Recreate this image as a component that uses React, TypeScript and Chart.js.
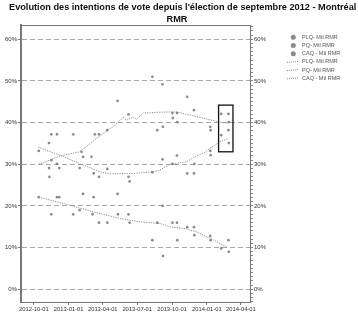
import React, { useEffect, useRef } from 'react';
import { Chart, registerables } from 'chart.js';

Chart.register(...registerables);

const ORIGIN = '2012-10-01';
const TITLE_LINES = ["Evolution des intentions de vote depuis l'élection de septembre 2012 - Montréal", 'RMR'];
const SERIES_NAMES = ['PLQ- Mtl RMR', 'PQ- Mtl RMR', 'CAQ - Mtl RMR'];
const X_TICK_DATES = ['2012-10-01', '2013-01-01', '2013-04-01', '2013-07-01', '2013-10-01', '2014-01-01', '2014-04-01'];
const X_RANGE = ['2012-08-28', '2014-04-25'];
const Y_TICKS = [0, 10, 20, 30, 40, 50, 60];
const Y_RANGE = [-3.05, 63.43];

const PLQ_DATES = ['2012-11-10', '2012-11-11', '2012-11-16', '2012-12-01', '2012-12-07', '2013-02-04', '2013-02-08', '2013-03-11', '2013-03-22', '2013-04-13', '2013-05-10', '2013-06-08', '2013-08-10', '2013-08-23', '2013-09-06', '2013-09-07', '2013-10-02', '2013-10-03', '2013-10-14', '2013-10-15', '2013-11-10', '2013-11-28', '2014-01-10', '2014-01-11', '2014-02-08', '2014-02-27', '2014-02-28'];
const PLQ_VALUES = [29.1, 27.0, 31.0, 30.1, 29.1, 33.0, 31.8, 37.2, 37.2, 38.2, 45.2, 42.0, 51.0, 38.2, 49.2, 39.0, 42.3, 41.1, 42.3, 40.1, 46.2, 43.0, 39.0, 38.2, 42.1, 42.1, 40.1];

const PQ_DATES = ['2012-10-14', '2012-11-10', '2012-11-16', '2012-12-01', '2013-01-13', '2013-01-30', '2013-03-02', '2013-03-08', '2013-03-22', '2013-04-13', '2013-06-08', '2013-06-11', '2013-08-10', '2013-09-06', '2013-10-02', '2013-10-14', '2013-11-10', '2013-11-28', '2013-11-29', '2014-01-10', '2014-01-11', '2014-02-08', '2014-02-27', '2014-02-28'];
const PQ_VALUES = [33.2, 35.1, 37.2, 37.2, 37.2, 29.1, 31.8, 27.8, 27.0, 28.9, 27.0, 25.9, 28.1, 31.2, 30.1, 32.1, 27.8, 27.8, 30.1, 33.2, 32.2, 37.0, 38.2, 35.1];

const CAQ_DATES = ['2012-10-14', '2012-11-16', '2012-12-01', '2012-12-07', '2013-01-13', '2013-01-30', '2013-02-08', '2013-03-05', '2013-03-08', '2013-03-22', '2013-04-13', '2013-05-10', '2013-05-11', '2013-06-08', '2013-06-11', '2013-08-10', '2013-08-23', '2013-09-06', '2013-09-07', '2013-10-02', '2013-10-14', '2013-10-15', '2013-11-10', '2013-11-28', '2013-11-29', '2014-01-10', '2014-01-11', '2014-02-08', '2014-02-27', '2014-02-28'];
const CAQ_VALUES = [22.1, 18.0, 22.1, 22.1, 18.0, 19.0, 22.9, 18.0, 22.1, 16.0, 16.0, 22.9, 18.0, 18.0, 16.0, 11.8, 16.0, 20.0, 8.0, 16.0, 16.0, 11.8, 14.9, 14.9, 13.0, 12.8, 11.8, 9.8, 11.8, 9.0];

const PLQ_TREND_DATES = ['2012-10-14', '2012-12-09', '2013-01-30', '2013-03-24', '2013-05-03', '2013-05-25', '2013-06-03', '2013-06-20', '2013-06-29', '2013-07-17', '2013-08-30', '2013-10-13', '2013-11-17', '2013-12-22', '2014-01-31', '2014-02-22'];
const PLQ_TREND_VALUES = [30.0, 32.0, 33.0, 36.8, 39.4, 41.3, 40.6, 41.3, 40.8, 42.3, 42.5, 42.6, 41.8, 41.1, 40.2, 39.9];

const PQ_TREND_DATES = ['2012-10-12', '2012-12-08', '2013-01-30', '2013-03-24', '2013-04-19', '2013-06-20', '2013-08-12', '2013-08-30', '2013-09-25', '2013-11-08', '2013-12-04', '2013-12-22', '2014-01-09', '2014-02-04', '2014-02-26'];
const PQ_TREND_VALUES = [34.1, 32.2, 30.2, 28.2, 27.7, 27.8, 28.2, 28.6, 30.0, 30.6, 32.0, 32.6, 33.8, 35.4, 36.2];

const CAQ_TREND_DATES = ['2012-10-14', '2012-12-26', '2013-03-06', '2013-05-16', '2013-07-08', '2013-08-30', '2013-09-25', '2013-11-08', '2013-12-04', '2014-01-09', '2014-02-04', '2014-02-26'];
const CAQ_TREND_VALUES = [22.1, 20.4, 18.6, 17.0, 16.2, 15.8, 15.0, 14.5, 13.8, 12.3, 11.0, 10.0];

const BOX_DATES = ['2014-02-01', '2014-03-11'];
const BOX_VALUES = [33.0, 44.2];

const FONT = '"Liberation Sans", Arial, sans-serif';
const GREY = '#8a8a8a';

function toDay(s: string): number {
  const [y, m, d] = s.split('-').map(Number);
  const [y0, m0, d0] = ORIGIN.split('-').map(Number);
  return (Date.UTC(y, m - 1, d) - Date.UTC(y0, m0 - 1, d0)) / 86400000;
}

function pts(dates: string[], values: number[]) {
  return dates.map((d, i) => ({ x: toDay(d), y: values[i] }));
}

const decor = {
  id: 'decor',
  afterDraw(chart: any) {
    const { ctx, chartArea: ca, scales } = chart;
    const x = scales.x;
    const y = scales.y;
    ctx.save();
    ctx.strokeStyle = '#777';
    ctx.lineWidth = 1;
    ctx.beginPath();
    ctx.moveTo(ca.left, Math.round(ca.top) + 0.5);
    ctx.lineTo(ca.right, Math.round(ca.top) + 0.5);
    ctx.stroke();
    const bx1 = x.getPixelForValue(toDay(BOX_DATES[0]));
    const bx2 = x.getPixelForValue(toDay(BOX_DATES[1]));
    const by1 = y.getPixelForValue(BOX_VALUES[1]);
    const by2 = y.getPixelForValue(BOX_VALUES[0]);
    ctx.strokeStyle = '#111';
    ctx.lineWidth = 1.3;
    ctx.strokeRect(bx1, by1, bx2 - bx1, by2 - by1);
    ctx.fillStyle = '#111';
    ctx.font = `bold 9.2px ${FONT}`;
    ctx.textBaseline = 'middle';
    ctx.textAlign = 'left';
    ctx.fillText(TITLE_LINES[0], 9, 7.5);
    ctx.textAlign = 'center';
    ctx.fillText(TITLE_LINES[1], 177, 19.5);
    ctx.font = `5.5px ${FONT}`;
    ctx.textAlign = 'left';
    chart.data.datasets.forEach((ds: any, i: number) => {
      const ly = 37.3 + i * 8.2;
      if (!ds.showLine) {
        ctx.fillStyle = ds.backgroundColor;
        ctx.beginPath();
        ctx.arc(293.3, ly, 2.5, 0, Math.PI * 2);
        ctx.fill();
      } else {
        ctx.strokeStyle = ds.borderColor;
        ctx.lineWidth = 1;
        ctx.setLineDash([1, 1]);
        ctx.beginPath();
        ctx.moveTo(287, ly + 0.5);
        ctx.lineTo(299, ly - 0.5);
        ctx.stroke();
        ctx.setLineDash([]);
      }
      ctx.fillStyle = '#555';
      ctx.fillText(ds.label, 302, ly);
    });
    ctx.restore();
  },
};

export default function App() {
  const ref = useRef<HTMLCanvasElement>(null);
  useEffect(() => {
    const pointDs = (label: string, data: any[]) => ({
      label,
      data,
      showLine: false,
      backgroundColor: GREY,
      borderColor: GREY,
      pointRadius: 1.35,
      pointBorderWidth: 0,
    });
    const lineDs = (label: string, data: any[]) => ({
      label,
      data,
      showLine: true,
      borderColor: '#8c8c8c',
      backgroundColor: '#8c8c8c',
      borderWidth: 1,
      borderDash: [1.2, 1.2],
      pointRadius: 0,
      fill: false,
    });
    const chart = new Chart(ref.current as HTMLCanvasElement, {
      type: 'scatter',
      data: {
        datasets: [
          pointDs(SERIES_NAMES[0], pts(PLQ_DATES, PLQ_VALUES)),
          pointDs(SERIES_NAMES[1], pts(PQ_DATES, PQ_VALUES)),
          pointDs(SERIES_NAMES[2], pts(CAQ_DATES, CAQ_VALUES)),
          lineDs(SERIES_NAMES[0], pts(PLQ_TREND_DATES, PLQ_TREND_VALUES)),
          lineDs(SERIES_NAMES[1], pts(PQ_TREND_DATES, PQ_TREND_VALUES)),
          lineDs(SERIES_NAMES[2], pts(CAQ_TREND_DATES, CAQ_TREND_VALUES)),
        ] as any,
      },
      options: {
        animation: false,
        responsive: false,
        layout: { padding: { top: 25, left: 0, right: 0, bottom: 0 } },
        plugins: {
          legend: { display: false },
          title: { display: false },
          tooltip: { enabled: false },
        },
        scales: {
          x: {
            type: 'linear',
            min: toDay(X_RANGE[0]),
            max: toDay(X_RANGE[1]),
            afterBuildTicks: (s: any) => {
              s.ticks = X_TICK_DATES.map((d) => ({ value: toDay(d) }));
            },
            afterFit: (s: any) => {
              s.height = 14;
            },
            ticks: {
              autoSkip: false,
              maxRotation: 0,
              padding: 1,
              color: '#333',
              font: { size: 5.8, family: FONT },
              callback: (_v: any, i: number) => X_TICK_DATES[i],
            },
            grid: { drawOnChartArea: false, tickLength: 3, color: '#777' },
            border: { color: '#777', width: 1 },
          },
          y: {
            position: 'left',
            min: Y_RANGE[0],
            max: Y_RANGE[1],
            afterBuildTicks: (s: any) => {
              s.ticks = Y_TICKS.map((v) => ({ value: v }));
            },
            afterFit: (s: any) => {
              s.width = 21;
            },
            ticks: {
              padding: 1,
              color: '#333',
              font: { size: 6, family: FONT },
              callback: (v: any) => `${v}%`,
            },
            grid: { color: '#a8a8a8', tickLength: 3, tickColor: '#777' },
            border: { color: '#777', width: 2, dash: [5, 3] },
          },
          y2: {
            position: 'right',
            min: Y_RANGE[0],
            max: Y_RANGE[1],
            afterBuildTicks: (s: any) => {
              const t = [];
              for (let v = Math.ceil(Y_RANGE[0]); v <= Math.floor(Y_RANGE[1]); v++) t.push({ value: v });
              s.ticks = t;
            },
            afterFit: (s: any) => {
              s.width = 108;
            },
            ticks: {
              autoSkip: false,
              padding: 1,
              color: '#333',
              font: { size: 6, family: FONT },
              callback: (v: any) => (Y_TICKS.includes(v) ? `${v}%` : ''),
            },
            grid: { drawOnChartArea: false, tickLength: 3, color: '#888' },
            border: { color: '#777', width: 1 },
          },
        },
      } as any,
      plugins: [decor],
    });
    return () => chart.destroy();
  }, []);
  return (
    <div style={{ position: 'absolute', left: 0, top: 0, width: 358, height: 316, background: '#fff' }}>
      <canvas ref={ref} width={358} height={316} style={{ display: 'block', width: 358, height: 316 }} />
    </div>
  );
}
